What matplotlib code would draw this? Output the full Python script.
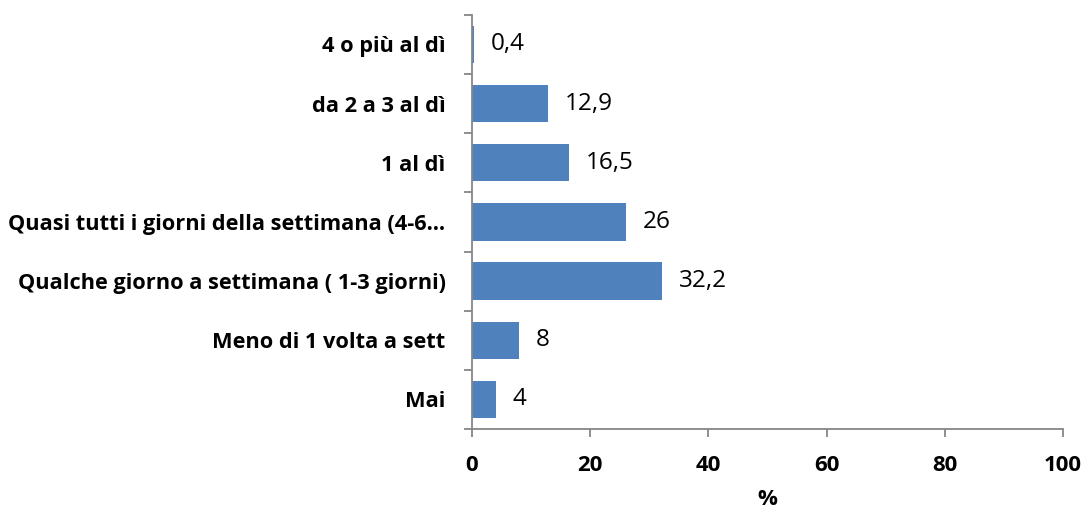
import numpy as np
import matplotlib
matplotlib.use("Agg")
import matplotlib.pyplot as plt

categories = ["Mai", "Meno di 1 volta a sett", "Qualche giorno a settimana ( 1-3 giorni)",
              "Quasi tutti i giorni della settimana (4-6\u2026", "1 al dì", "da 2 a 3 al dì",
              "4 o più al dì"]
values = [4, 8, 32.2, 26, 16.5, 12.9, 0.4]
value_labels = ["4", "8", "32,2", "26", "16,5", "12,9", "0,4"]
xticks = [0, 20, 40, 60, 80, 100]

plt.rcParams['font.family'] = ['Open Sans', 'DejaVu Sans']
axis_col = '#868686'

fig = plt.figure(figsize=(10.86, 5.12), dpi=100)
ax = fig.add_axes([0.4346, 0.162, 0.5442, 0.809])

y = np.arange(len(categories))
ax.barh(y, values, height=0.63, color='#4F81BD')

for yi, v, lab in zip(y, values, value_labels):
    ax.annotate(lab, (v, yi), xytext=(12, 0), textcoords='offset points',
                va='center', ha='left', fontsize=17.5)

ax.set_xlim(0, 100)
ax.set_ylim(-0.5, len(categories) - 0.5)
ax.set_xticks(xticks)
ax.set_xticklabels([str(t) for t in xticks], fontsize=16, fontweight='bold')
ax.set_yticks(y)
ax.set_yticklabels(categories, fontsize=15.7, fontweight='bold')
ax.set_yticks(np.arange(-0.5, len(categories)), minor=True)

ax.tick_params(axis='y', which='major', length=0, pad=19)
ax.tick_params(axis='y', which='minor', length=6, color=axis_col, width=1.3)
ax.tick_params(axis='x', length=6, color=axis_col, width=1.3, pad=13)

for s in ['top', 'right']:
    ax.spines[s].set_visible(False)
for s in ['left', 'bottom']:
    ax.spines[s].set_color(axis_col)
    ax.spines[s].set_linewidth(1.3)

ax.set_xlabel('%', fontsize=16, fontweight='bold', labelpad=9)

fig.savefig('out.png', dpi=100)
